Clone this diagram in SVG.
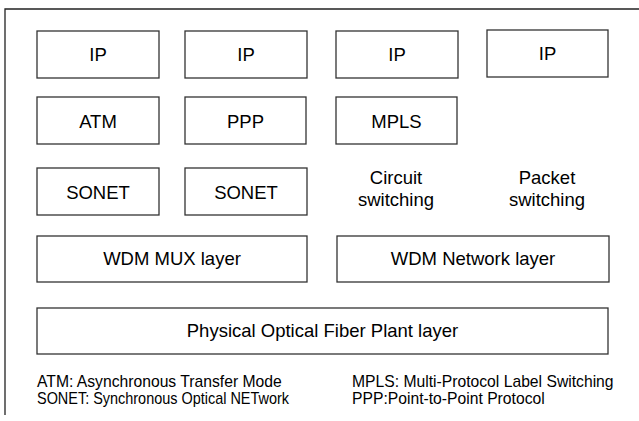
<svg xmlns="http://www.w3.org/2000/svg" width="639" height="421" viewBox="0 0 639 421">
<style>
.box{fill:#fff;stroke:#333;stroke-width:1.3}
.t{font-family:"Liberation Sans",Arial,sans-serif;font-size:18.5px;fill:#000;text-anchor:middle}
.l{font-family:"Liberation Sans",Arial,sans-serif;font-size:15.7px;fill:#000}
.frame{fill:none;stroke:#222;stroke-width:1.3}
</style>
<rect width="639" height="421" fill="#fff"/>
<path class="frame" d="M5,415 V9 H639"/>
<g id="ip1"><rect class="box" x="37" y="31" width="122" height="47"/><text class="t" x="98" y="61.3">IP</text></g>
<g id="ip2"><rect class="box" x="185" y="31" width="122" height="47"/><text class="t" x="246" y="61.3">IP</text></g>
<g id="ip3"><rect class="box" x="336" y="31" width="122" height="47"/><text class="t" x="397" y="61.3">IP</text></g>
<g id="ip4"><rect class="box" x="487" y="30" width="121" height="47"/><text class="t" x="547.5" y="60">IP</text></g>
<g id="atm"><rect class="box" x="37" y="97" width="122" height="47"/><text class="t" x="98" y="127.5">ATM</text></g>
<g id="ppp"><rect class="box" x="185" y="97" width="121" height="47"/><text class="t" x="245.5" y="127.5">PPP</text></g>
<g id="mpls"><rect class="box" x="336" y="97" width="121" height="47"/><text class="t" x="396.5" y="127.5">MPLS</text></g>
<g id="sonet1"><rect class="box" x="37" y="168" width="122" height="47"/><text class="t" x="98" y="198.8">SONET</text></g>
<g id="sonet2"><rect class="box" x="185" y="168" width="122" height="47"/><text class="t" x="246" y="198.8">SONET</text></g>
<g id="circuit"><text class="t" x="396" y="184.3">Circuit</text><text class="t" x="396" y="206">switching</text></g>
<g id="packet"><text class="t" x="547" y="184.3">Packet</text><text class="t" x="547" y="206">switching</text></g>
<g id="wdmmux"><rect class="box" x="37" y="236" width="270" height="46"/><text class="t" x="172" y="265.3">WDM MUX layer</text></g>
<g id="wdmnet"><rect class="box" x="337" y="236" width="272" height="46"/><text class="t" x="473" y="265.3">WDM Network layer</text></g>
<g id="physical"><rect class="box" x="37" y="308" width="571" height="46"/><text class="t" x="322.5" y="337">Physical Optical Fiber Plant layer</text></g>
<g id="legend">
<text class="l" x="37" y="387">ATM: Asynchronous Transfer Mode</text>
<text class="l" x="37" y="404" textLength="252" lengthAdjust="spacingAndGlyphs">SONET: Synchronous Optical NETwork</text>
<text class="l" x="352" y="387">MPLS: Multi-Protocol Label Switching</text>
<text class="l" x="352" y="404">PPP:Point-to-Point Protocol</text>
</g>
<g id="connectors"></g>
</svg>
